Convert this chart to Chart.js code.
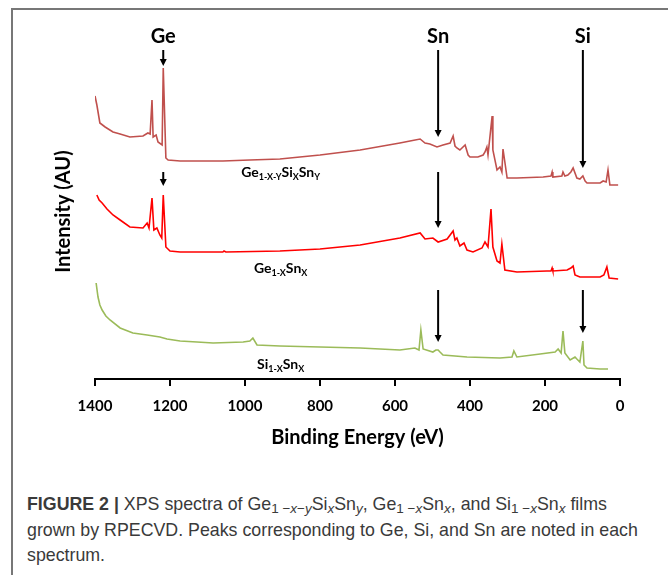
<!DOCTYPE html>
<html><head><meta charset="utf-8">
<script src="https://cdn.jsdelivr.net/npm/chart.js@4.4.0/dist/chart.umd.min.js"></script>
<style>
html,body{margin:0;padding:0;background:#fff;width:668px;height:575px;overflow:hidden}
#frame{position:absolute;left:11px;top:8px;width:700px;height:600px;border-left:2px solid #777;border-top:2px solid #777;}
#wrap{position:absolute;left:0;top:0;width:668px;height:460px}
#cap{position:absolute;left:27px;top:492px;font-family:"Liberation Sans",Arial,sans-serif;font-size:17.8px;line-height:25.5px;color:#3a3a3a;white-space:nowrap}
#cap sub{font-size:13.5px;line-height:0;vertical-align:-3px}
</style></head><body>
<div id="frame"></div>
<div id="wrap"><canvas id="c" width="668" height="460"></canvas></div>
<div id="cap"><b>FIGURE 2 |</b> XPS spectra of Ge<sub>1 −<i>x</i>−<i>y</i></sub>Si<sub><i>x</i></sub>Sn<sub><i>y</i></sub>, Ge<sub>1 −<i>x</i></sub>Sn<sub><i>x</i></sub>, and Si<sub>1 −<i>x</i></sub>Sn<sub><i>x</i></sub> films<br>grown by RPECVD. Peaks corresponding to Ge, Si, and Sn are noted in each<br>spectrum.</div>
<script>
// Binding energies (eV) and intensities (AU)
const geSiSnEnergy = [1400,1395,1387,1373,1352,1333,1307,1272,1259,1253,1248,1245,1237,1232,1221,1218,1211,1205,1173,1059,987,907,800,693,587,560,533,520,507,488,472,453,445,440,435,427,413,405,400,379,365,360,355,352,341,339,328,320,315,312,301,275,205,184,181,179,155,152,147,139,131,125,115,107,99,93,88,53,45,37,32,27,5];
const geSiSnIntensity = [283,274,256,252,247,245,242,243,246,245,279,242,244,237,234,311,221,219,218,218,219,220,224,229,236,238,240,236,235,232,234,236,243,233,231,229,234,224,222,222,224,227,232,224,263,229,209,212,207,230,201,201,202,203,207,202,203,207,203,204,207,211,201,200,203,198,196,196,198,197,209,194,194];

const geSnEnergy = [1395,1389,1381,1368,1352,1333,1307,1272,1261,1256,1248,1243,1235,1227,1222,1218,1211,1200,1173,1059,1056,1051,907,800,693,587,533,520,499,485,461,445,440,435,427,416,408,392,368,360,352,344,339,328,320,315,307,275,195,184,181,179,141,131,125,120,107,53,43,35,29,5];
const geSnIntensity = [184,179,176,170,164,159,152,151,156,151,181,149,151,144,141,184,132,128,127,127,128,127,128,130,134,141,146,140,141,137,140,148,139,141,133,136,129,127,131,137,132,170,132,118,116,135,109,107,108,108,111,108,109,111,113,104,102,102,104,112,101,100];

const siSnEnergy = [1397,1392,1387,1381,1371,1360,1333,1299,1261,1227,1208,1173,1128,1085,1005,987,979,968,907,800,693,587,547,536,531,525,499,491,485,480,472,408,320,288,283,275,213,173,165,157,152,147,133,120,115,107,99,96,88,53,32];
const siSnIntensity = [96,82,74,69,63,59,51,46,44,42,40,38,37,36,37,38,41,34,33,32,31,29,31,29,49,30,27,29,29,27,24,22,21,22,28,22,25,27,30,26,48,26,19,22,20,17,38,14,11,10,10];

const xTicks = [1400,1200,1000,800,600,400,200,0];

// Element markers (label at top) and arrows
const elementNames = ["Ge","Sn","Si"];
const elementEnergy = [1218,485,99];
const elementLabelY = [342,342,342];
const arrowEnergy = [1218,485,99,1218,485,485,99];
const arrowFrom = [329,329,329,207,207,89,89];
const arrowTo = [313,242,211,193,151,37,46];

// Sample labels: segments [text, isSubscript]
const sampleLabels = [
  [["Ge",0],["1-X-Y",1],["Si",0],["X",1],["Sn",0],["Y",1]],
  [["Ge",0],["1-X",1],["Sn",0],["X",1]],
  [["Si",0],["1-X",1],["Sn",0],["X",1]]
];
const sampleLabelEnergy = [905,905,905];
const sampleLabelY = [202,106,10];

const FONT = "Lato, 'Open Sans', sans-serif";

const overlay = {
  id:'overlay',
  afterDatasetsDraw(chart){
    const ctx = chart.ctx, xs = chart.scales.x, ys = chart.scales.y;
    ctx.save();
    ctx.fillStyle = '#000'; ctx.strokeStyle = '#000';
    ctx.font = "bold 20px " + FONT;
    ctx.textAlign = 'center'; ctx.textBaseline = 'middle';
    elementNames.forEach((n,i)=>{
      ctx.fillText(n, xs.getPixelForValue(elementEnergy[i]), ys.getPixelForValue(elementLabelY[i]));
    });
    arrowEnergy.forEach((e,i)=>{
      const x = xs.getPixelForValue(e);
      const y0 = ys.getPixelForValue(arrowFrom[i]);
      const y1 = ys.getPixelForValue(arrowTo[i]);
      ctx.lineWidth = 2;
      ctx.beginPath(); ctx.moveTo(x,y0); ctx.lineTo(x,y1-6); ctx.stroke();
      ctx.beginPath(); ctx.moveTo(x-3.5,y1-7); ctx.lineTo(x+3.5,y1-7); ctx.lineTo(x,y1); ctx.closePath(); ctx.fill();
    });
    ctx.textAlign = 'left'; ctx.textBaseline = 'alphabetic';
    sampleLabels.forEach((segs,i)=>{
      let w = 0;
      segs.forEach(s=>{ ctx.font = s[1] ? "bold 9px "+FONT : "bold 14px "+FONT; w += ctx.measureText(s[0]).width; });
      let x = xs.getPixelForValue(sampleLabelEnergy[i]) - w/2;
      const y = ys.getPixelForValue(sampleLabelY[i]);
      segs.forEach(s=>{
        ctx.font = s[1] ? "bold 9px "+FONT : "bold 14px "+FONT;
        ctx.fillText(s[0], x, s[1] ? y+3 : y);
        x += ctx.measureText(s[0]).width;
      });
    });
    ctx.font = "bold 20px " + FONT;
    ctx.textAlign = 'center'; ctx.textBaseline = 'middle';
    ctx.translate(64, (chart.chartArea.top + chart.chartArea.bottom)/2 + 12);
    ctx.rotate(-Math.PI/2);
    ctx.fillText("Intensity (AU)", 0, 0);
    ctx.restore();
  }
};

function pts(xa, ya){ return xa.map((x,i)=>({x:x, y:ya[i]})); }

new Chart(document.getElementById('c'), {
  type:'line',
  data:{ datasets:[
    {label:'Ge1-x-ySixSny', data:pts(geSiSnEnergy,geSiSnIntensity), borderColor:'#c0504d', borderWidth:1.6, pointRadius:0, tension:0},
    {label:'Ge1-xSnx', data:pts(geSnEnergy,geSnIntensity), borderColor:'#ff0000', borderWidth:1.6, pointRadius:0, tension:0},
    {label:'Si1-xSnx', data:pts(siSnEnergy,siSnIntensity), borderColor:'#9bbb59', borderWidth:1.6, pointRadius:0, tension:0}
  ]},
  options:{
    responsive:false, animation:false,
    layout:{padding:{left:95,right:48,top:20,bottom:0}},
    plugins:{legend:{display:false}, tooltip:{enabled:false}},
    scales:{
      x:{type:'linear', reverse:true, min:0, max:1400,
        afterBuildTicks(s){ s.ticks = xTicks.map(v=>({value:v})); },
        afterFit(s){ s.height = 81; },
        grid:{drawOnChartArea:false, drawTicks:true, tickLength:7, color:'#000', lineWidth:2},
        border:{display:true, color:'#000', width:2},
        ticks:{color:'#000', padding:11, font:{family:FONT, weight:'bold', size:15}, maxRotation:0, autoSkip:false,
          callback:(v)=>String(v)},
        title:{display:true, text:'Binding Energy (eV)', color:'#000', font:{family:FONT, weight:'bold', size:20}, padding:{top:0,bottom:10}}
      },
      y:{type:'linear', display:false, min:0, max:359}
    }
  },
  plugins:[overlay]
});
</script>
</body></html>
